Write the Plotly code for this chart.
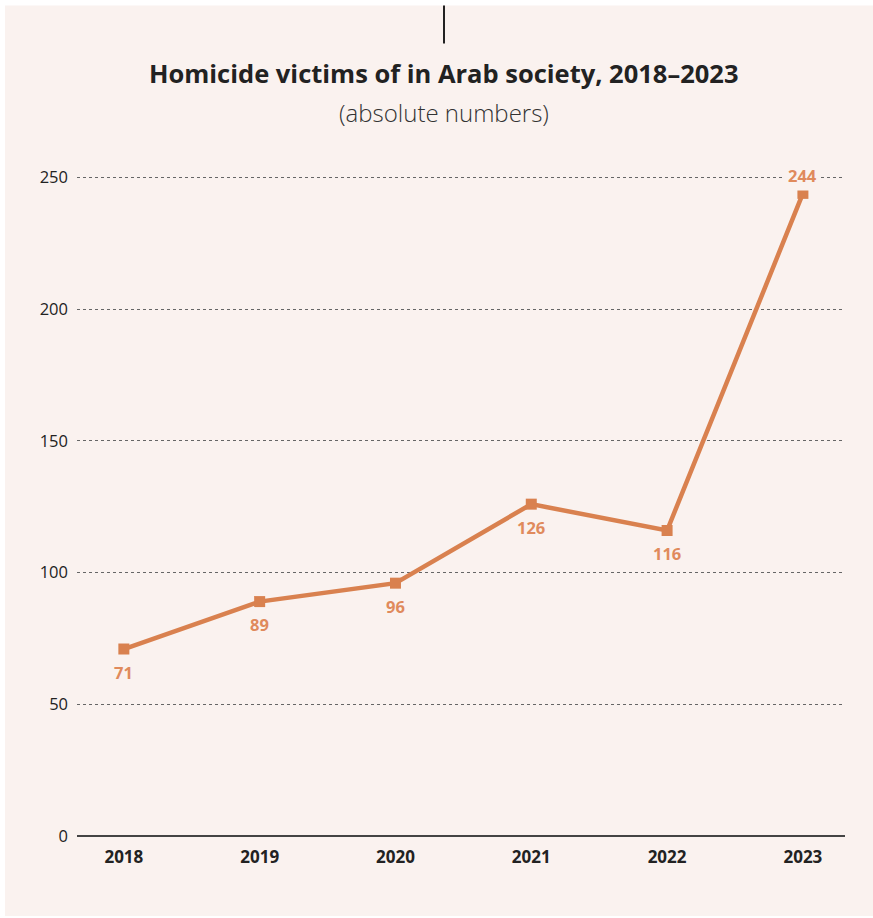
import plotly.graph_objects as go

years = ["2018", "2019", "2020", "2021", "2022", "2023"]
victims = [71, 89, 96, 126, 116, 244]
label_pos = ["bottom", "bottom", "bottom", "bottom", "bottom", "top"]
y_ticks = [0, 50, 100, 150, 200, 250]

LINE = "#d9814f"
LABEL = "#e08a5c"
PANEL = "#faf2ef"
INK = "#222222"
FONT = "Open Sans, sans-serif"

x_idx = list(range(len(years)))
Y_TOP = 250.6
PLOT_H = 658 * Y_TOP / 250

fig = go.Figure()
fig.add_trace(go.Scatter(
    x=x_idx, y=victims, mode="lines+markers",
    line=dict(color=LINE, width=4.5),
    marker=dict(symbol="square", size=11, color=LINE),
    hoverinfo="skip", showlegend=False, cliponaxis=False,
))

# value labels; the one above its point gets a panel-coloured backing so the
# top gridline breaks behind it
for i, (v, pos) in enumerate(zip(victims, label_pos)):
    above = pos == "top"
    fig.add_annotation(
        x=i, y=v, text=f"<b>{v}</b>", showarrow=False,
        yshift=18 if above else -23,
        font=dict(family=FONT, size=16.5, color=LABEL),
        bgcolor=PANEL if above else "rgba(0,0,0,0)", borderpad=3,
    )

top = 836 - PLOT_H  # pixel y of plot top


def py(pix):
    """paper y for a pixel row"""
    return (836 - pix) / PLOT_H


def px(pix):
    return (pix - 77) / 768


fig.update_layout(
    width=873, height=918,
    margin=dict(l=77, r=28, t=int(round(top)), b=82),
    paper_bgcolor="white", plot_bgcolor=PANEL,
    shapes=[
        dict(type="rect", xref="paper", yref="paper", layer="below",
             x0=px(5), x1=px(873), y0=py(916), y1=py(6),
             fillcolor=PANEL, line=dict(width=0)),
        dict(type="line", xref="paper", yref="paper",
             x0=px(444), x1=px(444), y0=py(44), y1=py(6),
             line=dict(color=INK, width=2)),
    ],
    annotations=list(fig.layout.annotations) + [
        dict(xref="paper", yref="paper", x=px(444), y=py(73),
             text="<b>Homicide victims of in Arab society, 2018–2023</b>",
             showarrow=False, yanchor="middle",
             font=dict(family=FONT, size=25.5, color=INK)),
        dict(xref="paper", yref="paper", x=px(444), y=py(113),
             text="(absolute numbers)", showarrow=False, yanchor="middle",
             font=dict(family=FONT, size=24, color="#333333", weight=300)),
    ],
)

fig.update_xaxes(
    range=[-0.345, 5.31], tickvals=x_idx, ticktext=[f"<b>{y}</b>" for y in years],
    showgrid=False, zeroline=False, showline=False, ticks="",
    tickfont=dict(family=FONT, size=17, color=INK),
    ticklabelstandoff=9, fixedrange=True,
)
fig.update_yaxes(
    range=[0, Y_TOP], tickvals=y_ticks,
    showgrid=True, gridcolor="#666666", griddash="dot", gridwidth=1,
    zeroline=True, zerolinecolor="#444444", zerolinewidth=1.5,
    showline=False, ticks="",
    tickfont=dict(family=FONT, size=16.5, color=INK),
    ticklabelstandoff=8, fixedrange=True,
)

fig.write_html("out.html")
